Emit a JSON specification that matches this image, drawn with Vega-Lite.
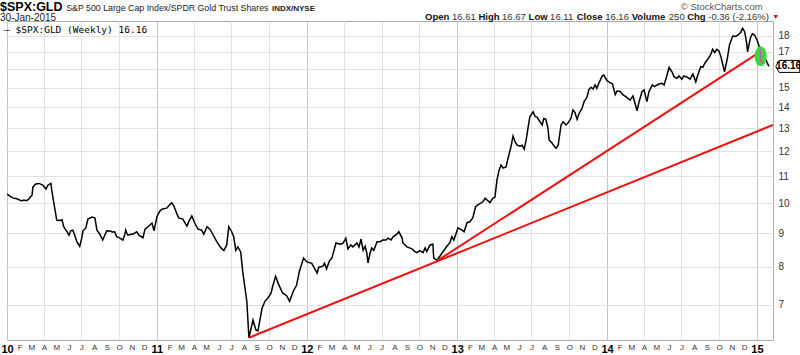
{
"$schema": "https://vega.github.io/schema/vega-lite/v6.json",
"width": 766, "height": 319,
"autosize": {"type": "none"},
"padding": {"left": 7, "top": 21, "right": 27, "bottom": 15},
"background": "white",
"config": {"font": "Liberation Sans", "view": {"stroke": "#aaaaaa", "strokeWidth": 1}},
"data": {"values": [{}]},
"datasets": {
"price": [
{"d":"2010-01-01","v":10.33},{"d":"2010-01-08","v":10.25},{"d":"2010-01-15","v":10.19},{"d":"2010-01-25","v":10.16},{"d":"2010-02-06","v":10.08},{"d":"2010-02-11","v":10.11},{"d":"2010-02-18","v":10.09},{"d":"2010-02-23","v":10.15},{"d":"2010-03-03","v":10.29},{"d":"2010-03-05","v":10.58},{"d":"2010-03-12","v":10.70},{"d":"2010-03-20","v":10.72},{"d":"2010-03-29","v":10.66},{"d":"2010-04-06","v":10.51},{"d":"2010-04-11","v":10.66},{"d":"2010-04-18","v":10.72},{"d":"2010-04-20","v":10.47},{"d":"2010-04-25","v":10.01},{"d":"2010-05-02","v":9.43},{"d":"2010-05-07","v":9.41},{"d":"2010-05-15","v":9.43},{"d":"2010-05-19","v":9.21},{"d":"2010-05-27","v":9.05},{"d":"2010-06-01","v":8.94},{"d":"2010-06-05","v":9.08},{"d":"2010-06-10","v":9.10},{"d":"2010-06-15","v":8.94},{"d":"2010-06-20","v":8.74},{"d":"2010-06-27","v":8.60},{"d":"2010-07-02","v":8.85},{"d":"2010-07-05","v":9.08},{"d":"2010-07-12","v":9.17},{"d":"2010-07-17","v":9.46},{"d":"2010-07-27","v":9.53},{"d":"2010-08-03","v":9.50},{"d":"2010-08-08","v":9.10},{"d":"2010-08-15","v":8.97},{"d":"2010-08-22","v":8.79},{"d":"2010-08-27","v":8.94},{"d":"2010-09-01","v":9.08},{"d":"2010-09-08","v":9.07},{"d":"2010-09-15","v":9.04},{"d":"2010-09-20","v":9.05},{"d":"2010-09-25","v":8.89},{"d":"2010-10-03","v":8.85},{"d":"2010-10-10","v":8.79},{"d":"2010-10-15","v":8.97},{"d":"2010-10-17","v":9.10},{"d":"2010-10-22","v":8.94},{"d":"2010-10-30","v":8.97},{"d":"2010-11-03","v":8.97},{"d":"2010-11-13","v":9.05},{"d":"2010-11-18","v":8.94},{"d":"2010-11-28","v":8.86},{"d":"2010-12-03","v":9.13},{"d":"2010-12-10","v":9.21},{"d":"2010-12-20","v":9.33},{"d":"2010-12-25","v":9.08},
{"d":"2011-01-01","v":9.54},{"d":"2011-01-08","v":9.73},{"d":"2011-01-15","v":9.80},{"d":"2011-01-25","v":9.83},{"d":"2011-01-30","v":9.91},{"d":"2011-02-06","v":10.02},{"d":"2011-02-11","v":9.91},{"d":"2011-02-18","v":9.66},{"d":"2011-02-23","v":9.50},{"d":"2011-03-05","v":9.46},{"d":"2011-03-15","v":9.23},{"d":"2011-03-20","v":9.39},{"d":"2011-03-27","v":9.56},{"d":"2011-04-03","v":9.33},{"d":"2011-04-11","v":9.13},{"d":"2011-04-20","v":9.10},{"d":"2011-04-25","v":8.97},{"d":"2011-05-03","v":9.21},{"d":"2011-05-10","v":9.13},{"d":"2011-05-17","v":8.97},{"d":"2011-05-27","v":8.73},{"d":"2011-06-06","v":8.55},{"d":"2011-06-13","v":8.47},{"d":"2011-06-20","v":8.64},{"d":"2011-06-25","v":9.21},{"d":"2011-07-02","v":9.05},{"d":"2011-07-07","v":8.89},{"d":"2011-07-12","v":8.48},{"d":"2011-07-17","v":8.58},{"d":"2011-07-24","v":8.43},{"d":"2011-07-29","v":7.86},{"d":"2011-08-08","v":7.08},{"d":"2011-08-13","v":6.24},{"d":"2011-08-23","v":6.64},{"d":"2011-08-30","v":6.41},{"d":"2011-09-04","v":6.39},{"d":"2011-09-14","v":6.92},{"d":"2011-09-21","v":7.09},{"d":"2011-09-28","v":7.17},{"d":"2011-10-06","v":7.30},{"d":"2011-10-10","v":7.48},{"d":"2011-10-17","v":7.74},{"d":"2011-10-24","v":7.53},{"d":"2011-11-03","v":7.30},{"d":"2011-11-13","v":7.23},{"d":"2011-11-20","v":7.09},{"d":"2011-11-30","v":7.37},{"d":"2011-12-07","v":7.50},{"d":"2011-12-14","v":7.88},{"d":"2011-12-24","v":8.25},
{"d":"2012-01-01","v":8.14},{"d":"2012-01-13","v":8.10},{"d":"2012-01-26","v":7.83},{"d":"2012-01-30","v":7.99},{"d":"2012-02-09","v":8.02},{"d":"2012-02-13","v":8.10},{"d":"2012-02-18","v":7.94},{"d":"2012-02-25","v":8.17},{"d":"2012-03-02","v":8.25},{"d":"2012-03-12","v":8.70},{"d":"2012-03-22","v":8.66},{"d":"2012-03-29","v":8.69},{"d":"2012-04-05","v":8.85},{"d":"2012-04-10","v":8.52},{"d":"2012-04-17","v":8.64},{"d":"2012-04-22","v":8.58},{"d":"2012-05-02","v":8.70},{"d":"2012-05-07","v":8.58},{"d":"2012-05-12","v":8.82},{"d":"2012-05-17","v":8.48},{"d":"2012-05-22","v":8.60},{"d":"2012-05-26","v":8.40},{"d":"2012-05-29","v":8.11},{"d":"2012-06-03","v":8.40},{"d":"2012-06-07","v":8.55},{"d":"2012-06-12","v":8.48},{"d":"2012-06-20","v":8.74},{"d":"2012-06-27","v":8.74},{"d":"2012-07-04","v":8.79},{"d":"2012-07-12","v":8.79},{"d":"2012-07-17","v":8.85},{"d":"2012-07-24","v":8.79},{"d":"2012-07-29","v":8.89},{"d":"2012-08-07","v":8.97},{"d":"2012-08-12","v":9.05},{"d":"2012-08-20","v":8.85},{"d":"2012-08-22","v":8.70},{"d":"2012-09-01","v":8.58},{"d":"2012-09-13","v":8.52},{"d":"2012-09-20","v":8.44},{"d":"2012-09-25","v":8.41},{"d":"2012-10-02","v":8.47},{"d":"2012-10-10","v":8.41},{"d":"2012-10-15","v":8.55},{"d":"2012-10-19","v":8.44},{"d":"2012-10-27","v":8.64},{"d":"2012-11-03","v":8.66},{"d":"2012-11-05","v":8.25},{"d":"2012-11-13","v":8.19},{"d":"2012-11-22","v":8.34},{"d":"2012-11-30","v":8.48},{"d":"2012-12-07","v":8.60},{"d":"2012-12-14","v":8.70},{"d":"2012-12-19","v":8.89},{"d":"2012-12-24","v":8.79},
{"d":"2013-01-03","v":9.17},{"d":"2013-01-13","v":9.10},{"d":"2013-01-18","v":9.05},{"d":"2013-01-25","v":9.34},{"d":"2013-02-01","v":9.37},{"d":"2013-02-08","v":9.50},{"d":"2013-02-15","v":9.88},{"d":"2013-02-22","v":9.96},{"d":"2013-03-05","v":10.05},{"d":"2013-03-10","v":10.18},{"d":"2013-03-15","v":10.11},{"d":"2013-03-22","v":10.02},{"d":"2013-03-29","v":10.18},{"d":"2013-04-03","v":10.21},{"d":"2013-04-08","v":10.85},{"d":"2013-04-13","v":11.23},{"d":"2013-04-18","v":11.43},{"d":"2013-04-23","v":11.31},{"d":"2013-04-30","v":11.36},{"d":"2013-05-05","v":11.72},{"d":"2013-05-12","v":12.19},{"d":"2013-05-17","v":12.66},{"d":"2013-05-22","v":12.41},{"d":"2013-05-27","v":12.26},{"d":"2013-06-03","v":12.22},{"d":"2013-06-08","v":12.26},{"d":"2013-06-13","v":12.09},{"d":"2013-06-18","v":12.48},{"d":"2013-06-23","v":13.08},{"d":"2013-06-27","v":13.54},{"d":"2013-07-05","v":13.78},{"d":"2013-07-10","v":13.55},{"d":"2013-07-14","v":13.54},{"d":"2013-07-19","v":13.39},{"d":"2013-07-27","v":13.16},{"d":"2013-07-31","v":13.46},{"d":"2013-08-05","v":13.42},{"d":"2013-08-10","v":13.02},{"d":"2013-08-13","v":12.48},{"d":"2013-08-20","v":12.35},{"d":"2013-08-25","v":12.22},{"d":"2013-08-30","v":12.13},{"d":"2013-09-04","v":12.26},{"d":"2013-09-11","v":13.16},{"d":"2013-09-16","v":13.31},{"d":"2013-09-23","v":13.16},{"d":"2013-09-28","v":13.26},{"d":"2013-10-05","v":13.46},{"d":"2013-10-10","v":13.87},{"d":"2013-10-15","v":13.74},{"d":"2013-10-20","v":13.42},{"d":"2013-10-25","v":13.71},{"d":"2013-11-01","v":13.95},{"d":"2013-11-06","v":14.28},{"d":"2013-11-13","v":14.50},{"d":"2013-11-18","v":14.91},{"d":"2013-11-23","v":15.02},{"d":"2013-11-28","v":14.93},{"d":"2013-12-03","v":15.14},{"d":"2013-12-07","v":14.96},{"d":"2013-12-12","v":15.23},{"d":"2013-12-20","v":15.62},{"d":"2013-12-24","v":15.68},
{"d":"2014-01-01","v":15.37},{"d":"2014-01-07","v":15.28},{"d":"2014-01-14","v":15.20},{"d":"2014-01-21","v":14.64},{"d":"2014-01-25","v":14.82},{"d":"2014-02-02","v":14.80},{"d":"2014-02-09","v":14.62},{"d":"2014-02-18","v":14.50},{"d":"2014-02-26","v":14.36},{"d":"2014-03-05","v":14.57},{"d":"2014-03-10","v":14.20},{"d":"2014-03-15","v":13.83},{"d":"2014-03-20","v":14.28},{"d":"2014-03-27","v":14.79},{"d":"2014-04-01","v":14.88},{"d":"2014-04-08","v":14.28},{"d":"2014-04-13","v":14.79},{"d":"2014-04-21","v":15.14},{"d":"2014-04-26","v":15.05},{"d":"2014-05-03","v":15.14},{"d":"2014-05-07","v":15.19},{"d":"2014-05-15","v":15.23},{"d":"2014-05-20","v":15.14},{"d":"2014-05-27","v":15.68},{"d":"2014-06-01","v":16.11},{"d":"2014-06-08","v":15.86},{"d":"2014-06-13","v":15.59},{"d":"2014-06-20","v":15.50},{"d":"2014-06-25","v":15.63},{"d":"2014-07-02","v":15.45},{"d":"2014-07-07","v":15.63},{"d":"2014-07-15","v":15.56},{"d":"2014-07-22","v":15.45},{"d":"2014-07-29","v":15.73},{"d":"2014-08-05","v":15.31},{"d":"2014-08-10","v":15.68},{"d":"2014-08-17","v":16.14},{"d":"2014-08-22","v":16.11},{"d":"2014-08-27","v":16.34},{"d":"2014-09-03","v":16.57},{"d":"2014-09-10","v":16.82},{"d":"2014-09-15","v":17.16},{"d":"2014-09-20","v":16.96},{"d":"2014-09-25","v":17.16},{"d":"2014-09-30","v":17.08},{"d":"2014-10-05","v":16.74},{"d":"2014-10-09","v":16.34},{"d":"2014-10-14","v":15.86},{"d":"2014-10-21","v":16.64},{"d":"2014-10-26","v":17.42},{"d":"2014-11-03","v":17.98},{"d":"2014-11-10","v":17.95},{"d":"2014-11-15","v":18.04},{"d":"2014-11-22","v":18.19},{"d":"2014-11-27","v":18.47},{"d":"2014-12-02","v":18.25},{"d":"2014-12-07","v":17.52},{"d":"2014-12-09","v":17.01},{"d":"2014-12-16","v":17.86},{"d":"2014-12-21","v":18.12},{"d":"2014-12-26","v":18.04},{"d":"2015-01-01","v":17.73},{"d":"2015-01-09","v":17.16},{"d":"2015-01-16","v":16.85},{"d":"2015-01-23","v":16.52},{"d":"2015-01-30","v":16.16}
],
"trend": [
{"t":"a","d":"2011-08-13","v":6.24},{"t":"a","d":"2015-02-09","v":13.16},
{"t":"b","d":"2012-11-13","v":8.17},{"t":"b","d":"2015-01-16","v":17.12}
],
"mark": [
{"d":"2015-01-09","v":17.2},{"d":"2015-01-10","v":16.45},{"d":"2015-01-18","v":16.35}
]
},
"layer": [
{"data": {"name": "price"},
 "mark": {"type": "line", "color": "black", "strokeWidth": 1.5, "clip": true},
 "encoding": {
  "x": {"field": "d", "type": "temporal",
   "scale": {"type": "time", "domain": [{"year": 2010, "month": 1, "date": 1}, {"year": 2015, "month": 2, "date": 9}]},
   "axis": {"orient": "bottom", "title": null, "tickCount": {"interval": "month", "step": 1},
    "labelExpr": "datum.value > datetime(2015,0,20) ? '' : (month(datum.value)==0 ? timeFormat(datum.value,'%y') : slice(timeFormat(datum.value,'%b'),0,1))",
    "labelFontWeight": {"condition": {"test": "month(datum.value)==0", "value": "bold"}, "value": "normal"},
    "labelFontSize": {"condition": {"test": "month(datum.value)==0", "value": 11}, "value": 8},
    "labelColor": {"condition": {"test": "month(datum.value)==0", "value": "#000000"}, "value": "#333333"},
    "labelOverlap": false, "labelFlush": false, "labelBound": false, "labelPadding": 3,
    "domain": false, "ticks": false, "grid": true,
    "gridColor": {"condition": {"test": "month(datum.value)==0", "value": "#c4c4c4"}, "value": "#e2e2e2"},
    "gridOpacity": {"condition": {"test": "month(datum.value)%3==0", "value": 1}, "value": 0}}},
  "y": {"field": "v", "type": "quantitative",
   "scale": {"type": "log", "domain": [6.19, 18.95]},
   "axis": {"orient": "right", "title": null, "values": [7, 8, 9, 10, 11, 12, 13, 14, 15, 16, 17, 18], "format": "d",
    "labelExpr": "datum.value==16 ? '' : datum.label",
    "grid": true, "gridColor": "#e2e2e2", "domain": false, "ticks": false, "labelPadding": 5,
    "labelFontSize": 10, "labelColor": "#333333"}}
 }},
{"data": {"name": "trend"},
 "mark": {"type": "line", "color": "#f01010", "strokeWidth": 2, "clip": true},
 "encoding": {"x": {"field": "d", "type": "temporal", "scale": {"type": "time", "domain": [{"year": 2010, "month": 1, "date": 1}, {"year": 2015, "month": 2, "date": 9}]}}, "y": {"field": "v", "type": "quantitative", "scale": {"type": "log", "domain": [6.19, 18.95]}}, "detail": {"field": "t"}}},
{"mark": {"type": "point", "shape": "M0.6,0L0.554,0.383L0.424,0.707L0.23,0.924L0,1L-0.23,0.924L-0.424,0.707L-0.554,0.383L-0.6,0L-0.554,-0.383L-0.424,-0.707L-0.23,-0.924L0,-1L0.23,-0.924L0.424,-0.707L0.554,-0.383Z", "size": 400, "filled": true, "fill": "#33dd33", "fillOpacity": 1, "strokeWidth": 0, "opacity": 1},
 "encoding": {"x": {"datum": {"year": 2015, "month": 1, "date": 10}, "type": "temporal", "scale": {"type": "time", "domain": [{"year": 2010, "month": 1, "date": 1}, {"year": 2015, "month": 2, "date": 9}]}}, "y": {"datum": 16.75, "type": "quantitative", "scale": {"type": "log", "domain": [6.19, 18.95]}}}},
{"data": {"name": "mark"},
 "mark": {"type": "line", "color": "#e040e0", "strokeWidth": 1.3},
 "encoding": {"x": {"field": "d", "type": "temporal", "scale": {"type": "time", "domain": [{"year": 2010, "month": 1, "date": 1}, {"year": 2015, "month": 2, "date": 9}]}}, "y": {"field": "v", "type": "quantitative", "scale": {"type": "log", "domain": [6.19, 18.95]}}}},
{"mark": {"type": "point", "shape": "M-1,0L-0.72,-0.5L1,-0.5L1,0.5L-0.72,0.5Z", "size": 576, "filled": true, "fill": "white", "stroke": "black", "strokeWidth": 1, "opacity": 1},
 "encoding": {"x": {"datum": {"year": 2015, "month": 3, "date": 17}, "type": "temporal", "scale": {"type": "time", "domain": [{"year": 2010, "month": 1, "date": 1}, {"year": 2015, "month": 2, "date": 9}]}}, "y": {"datum": 16.16, "type": "quantitative", "scale": {"type": "log", "domain": [6.19, 18.95]}}}},
{"mark": {"type": "text", "text": "16.16", "fontWeight": "bold", "fontSize": 10, "align": "center", "baseline": "middle", "color": "black"},
 "encoding": {"x": {"datum": {"year": 2015, "month": 3, "date": 19}, "type": "temporal", "scale": {"type": "time", "domain": [{"year": 2010, "month": 1, "date": 1}, {"year": 2015, "month": 2, "date": 9}]}}, "y": {"datum": 16.16, "type": "quantitative", "scale": {"type": "log", "domain": [6.19, 18.95]}}}},
{"mark": {"type": "text", "text": "$SPX:GLD", "fontWeight": "bold", "fontSize": 12.5, "align": "left", "baseline": "alphabetic", "color": "black"},
 "encoding": {"x": {"datum": {"year": 2009, "month": 12, "date": 15}, "type": "temporal", "scale": {"type": "time", "domain": [{"year": 2010, "month": 1, "date": 1}, {"year": 2015, "month": 2, "date": 9}]}}, "y": {"datum": 19.63, "type": "quantitative", "scale": {"type": "log", "domain": [6.19, 18.95]}}}},
{"mark": {"type": "text", "text": "S&P 500 Large Cap Index/SPDR Gold Trust Shares", "fontSize": 8.8, "align": "left", "baseline": "alphabetic", "color": "#222222"},
 "encoding": {"x": {"datum": {"year": 2010, "month": 5, "date": 25}, "type": "temporal", "scale": {"type": "time", "domain": [{"year": 2010, "month": 1, "date": 1}, {"year": 2015, "month": 2, "date": 9}]}}, "y": {"datum": 19.63, "type": "quantitative", "scale": {"type": "log", "domain": [6.19, 18.95]}}}},
{"mark": {"type": "text", "text": "INDX/NYSE", "fontSize": 8, "fontWeight": "bold", "align": "left", "baseline": "alphabetic", "color": "#222222"},
 "encoding": {"x": {"datum": {"year": 2011, "month": 10, "date": 8}, "type": "temporal", "scale": {"type": "time", "domain": [{"year": 2010, "month": 1, "date": 1}, {"year": 2015, "month": 2, "date": 9}]}}, "y": {"datum": 19.63, "type": "quantitative", "scale": {"type": "log", "domain": [6.19, 18.95]}}}},
{"mark": {"type": "text", "text": "30-Jan-2015", "fontSize": 10, "align": "left", "baseline": "alphabetic", "color": "#222222"},
 "encoding": {"x": {"datum": {"year": 2009, "month": 12, "date": 15}, "type": "temporal", "scale": {"type": "time", "domain": [{"year": 2010, "month": 1, "date": 1}, {"year": 2015, "month": 2, "date": 9}]}}, "y": {"datum": 18.93, "type": "quantitative", "scale": {"type": "log", "domain": [6.19, 18.95]}}}},
{"mark": {"type": "text", "text": "© StockCharts.com", "fontSize": 9.5, "align": "right", "baseline": "alphabetic", "color": "#555555"},
 "encoding": {"x": {"datum": {"year": 2015, "month": 1, "date": 15}, "type": "temporal", "scale": {"type": "time", "domain": [{"year": 2010, "month": 1, "date": 1}, {"year": 2015, "month": 2, "date": 9}]}}, "y": {"datum": 19.69, "type": "quantitative", "scale": {"type": "log", "domain": [6.19, 18.95]}}}},
{"mark": {"type": "text", "text": "Open", "fontSize": 9.5, "fontWeight": "bold", "align": "left", "baseline": "alphabetic", "color": "#111111"},
 "encoding": {"x": {"datum": {"year": 2012, "month": 10, "date": 15}, "type": "temporal", "scale": {"type": "time", "domain": [{"year": 2010, "month": 1, "date": 1}, {"year": 2015, "month": 2, "date": 9}]}}, "y": {"datum": 19.0, "type": "quantitative", "scale": {"type": "log", "domain": [6.19, 18.95]}}}},
{"mark": {"type": "text", "text": "16.61", "dx": 2.6, "fontSize": 9.5, "align": "left", "baseline": "alphabetic", "color": "#333333"},
 "encoding": {"x": {"datum": {"year": 2012, "month": 12, "date": 13}, "type": "temporal", "scale": {"type": "time", "domain": [{"year": 2010, "month": 1, "date": 1}, {"year": 2015, "month": 2, "date": 9}]}}, "y": {"datum": 19.0, "type": "quantitative", "scale": {"type": "log", "domain": [6.19, 18.95]}}}},
{"mark": {"type": "text", "text": "High", "fontSize": 9.5, "fontWeight": "bold", "align": "left", "baseline": "alphabetic", "color": "#111111"},
 "encoding": {"x": {"datum": {"year": 2013, "month": 2, "date": 22}, "type": "temporal", "scale": {"type": "time", "domain": [{"year": 2010, "month": 1, "date": 1}, {"year": 2015, "month": 2, "date": 9}]}}, "y": {"datum": 19.0, "type": "quantitative", "scale": {"type": "log", "domain": [6.19, 18.95]}}}},
{"mark": {"type": "text", "text": "16.67", "dx": 2.6, "fontSize": 9.5, "align": "left", "baseline": "alphabetic", "color": "#333333"},
 "encoding": {"x": {"datum": {"year": 2013, "month": 4, "date": 14}, "type": "temporal", "scale": {"type": "time", "domain": [{"year": 2010, "month": 1, "date": 1}, {"year": 2015, "month": 2, "date": 9}]}}, "y": {"datum": 19.0, "type": "quantitative", "scale": {"type": "log", "domain": [6.19, 18.95]}}}},
{"mark": {"type": "text", "text": "Low", "fontSize": 9.5, "fontWeight": "bold", "align": "left", "baseline": "alphabetic", "color": "#111111"},
 "encoding": {"x": {"datum": {"year": 2013, "month": 6, "date": 24}, "type": "temporal", "scale": {"type": "time", "domain": [{"year": 2010, "month": 1, "date": 1}, {"year": 2015, "month": 2, "date": 9}]}}, "y": {"datum": 19.0, "type": "quantitative", "scale": {"type": "log", "domain": [6.19, 18.95]}}}},
{"mark": {"type": "text", "text": "16.11", "dx": 2.6, "fontSize": 9.5, "align": "left", "baseline": "alphabetic", "color": "#333333"},
 "encoding": {"x": {"datum": {"year": 2013, "month": 8, "date": 9}, "type": "temporal", "scale": {"type": "time", "domain": [{"year": 2010, "month": 1, "date": 1}, {"year": 2015, "month": 2, "date": 9}]}}, "y": {"datum": 19.0, "type": "quantitative", "scale": {"type": "log", "domain": [6.19, 18.95]}}}},
{"mark": {"type": "text", "text": "Close", "fontSize": 9.5, "fontWeight": "bold", "align": "left", "baseline": "alphabetic", "color": "#111111"},
 "encoding": {"x": {"datum": {"year": 2013, "month": 10, "date": 19}, "type": "temporal", "scale": {"type": "time", "domain": [{"year": 2010, "month": 1, "date": 1}, {"year": 2015, "month": 2, "date": 9}]}}, "y": {"datum": 19.0, "type": "quantitative", "scale": {"type": "log", "domain": [6.19, 18.95]}}}},
{"mark": {"type": "text", "text": "16.16", "dx": 2.6, "fontSize": 9.5, "align": "left", "baseline": "alphabetic", "color": "#333333"},
 "encoding": {"x": {"datum": {"year": 2013, "month": 12, "date": 21}, "type": "temporal", "scale": {"type": "time", "domain": [{"year": 2010, "month": 1, "date": 1}, {"year": 2015, "month": 2, "date": 9}]}}, "y": {"datum": 19.0, "type": "quantitative", "scale": {"type": "log", "domain": [6.19, 18.95]}}}},
{"mark": {"type": "text", "text": "Volume", "fontSize": 9.5, "fontWeight": "bold", "align": "left", "baseline": "alphabetic", "color": "#111111"},
 "encoding": {"x": {"datum": {"year": 2014, "month": 3, "date": 2}, "type": "temporal", "scale": {"type": "time", "domain": [{"year": 2010, "month": 1, "date": 1}, {"year": 2015, "month": 2, "date": 9}]}}, "y": {"datum": 19.0, "type": "quantitative", "scale": {"type": "log", "domain": [6.19, 18.95]}}}},
{"mark": {"type": "text", "text": "250", "dx": 2.6, "fontSize": 9.5, "align": "left", "baseline": "alphabetic", "color": "#333333"},
 "encoding": {"x": {"datum": {"year": 2014, "month": 5, "date": 25}, "type": "temporal", "scale": {"type": "time", "domain": [{"year": 2010, "month": 1, "date": 1}, {"year": 2015, "month": 2, "date": 9}]}}, "y": {"datum": 19.0, "type": "quantitative", "scale": {"type": "log", "domain": [6.19, 18.95]}}}},
{"mark": {"type": "text", "text": "Chg", "fontSize": 9.5, "fontWeight": "bold", "align": "left", "baseline": "alphabetic", "color": "#111111"},
 "encoding": {"x": {"datum": {"year": 2014, "month": 7, "date": 15}, "type": "temporal", "scale": {"type": "time", "domain": [{"year": 2010, "month": 1, "date": 1}, {"year": 2015, "month": 2, "date": 9}]}}, "y": {"datum": 19.0, "type": "quantitative", "scale": {"type": "log", "domain": [6.19, 18.95]}}}},
{"mark": {"type": "text", "text": "-0.36 (-2.16%)", "dx": 2.6, "fontSize": 9.5, "align": "left", "baseline": "alphabetic", "color": "#333333"},
 "encoding": {"x": {"datum": {"year": 2014, "month": 8, "date": 29}, "type": "temporal", "scale": {"type": "time", "domain": [{"year": 2010, "month": 1, "date": 1}, {"year": 2015, "month": 2, "date": 9}]}}, "y": {"datum": 19.0, "type": "quantitative", "scale": {"type": "log", "domain": [6.19, 18.95]}}}},
{"mark": {"type": "text", "text": "▼", "fontSize": 7, "align": "left", "baseline": "alphabetic", "color": "#cc0000"},
 "encoding": {"x": {"datum": {"year": 2015, "month": 2, "date": 7}, "type": "temporal", "scale": {"type": "time", "domain": [{"year": 2010, "month": 1, "date": 1}, {"year": 2015, "month": 2, "date": 9}]}}, "y": {"datum": 19.1, "type": "quantitative", "scale": {"type": "log", "domain": [6.19, 18.95]}}}},
{"mark": {"type": "text", "text": "— $SPX:GLD (Weekly) 16.16", "font": "DejaVu Sans Mono", "fontSize": 9.5, "align": "left", "baseline": "alphabetic", "color": "black"},
 "encoding": {"x": {"datum": {"year": 2009, "month": 12, "date": 25}, "type": "temporal", "scale": {"type": "time", "domain": [{"year": 2010, "month": 1, "date": 1}, {"year": 2015, "month": 2, "date": 9}]}}, "y": {"datum": 18.17, "type": "quantitative", "scale": {"type": "log", "domain": [6.19, 18.95]}}}}
]
}
